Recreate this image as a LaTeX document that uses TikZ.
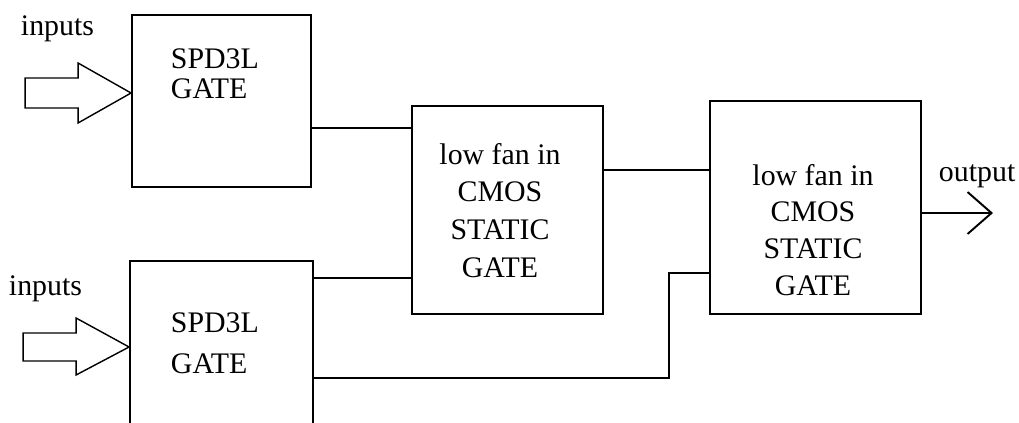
\documentclass[tikz,border=0pt]{standalone}
\usepackage{fontspec}
\setmainfont{Liberation Serif}
\usetikzlibrary{shapes, arrows.meta}

\begin{document}
\begin{tikzpicture}[x=0.02cm, y=-0.02cm, line width=1.1pt,
		gate/.style={rectangle, draw},
		txt/.style={inner sep=0pt, font=\fontsize{17}{21.5}\selectfont}]
		\useasboundingbox (0,0) rectangle (1019,423);
		% boxes
		\node at (221.5,101) [gate, minimum width=3.58cm, minimum height=3.44cm] (S1) {};
		\node at (221.5,380.5) [gate, minimum width=3.66cm, minimum height=4.78cm] (S2) {};
		\node at (507.5,210) [gate, minimum width=3.82cm, minimum height=4.16cm] (C1) {};
		\node at (815.5,207.5) [gate, minimum width=4.22cm, minimum height=4.26cm] (C2) {};
		% texts
		\node at (170,48) [txt, anchor=north west, align=left, font=\fontsize{17}{17}\selectfont] (T1) {SPD3L\\GATE};
		\node at (170,312) [txt, anchor=north west, align=left, font=\fontsize{17}{23.3}\selectfont] (T2) {SPD3L\\GATE};
		\node at (500,142) [txt, anchor=north, align=center, font=\fontsize{17}{21.6}\selectfont] (T3) {low fan in\\CMOS\\STATIC\\GATE};
		\node at (813,163) [txt, anchor=north, align=center, font=\fontsize{17}{21}\selectfont] (T4) {low fan in\\CMOS\\STATIC\\GATE};
		\node at (20,35) [txt, anchor=base west] (in1) {inputs};
		\node at (8,295) [txt, anchor=base west] (in2) {inputs};
		\node at (938,181) [txt, anchor=base west] (out) {output};
		% input arrows
		\draw[line width=0.8pt] (S1.west |- 0,93) -- ++(-53,-30) -- ++(0,15) -- ++(-53,0) -- ++(0,30) -- ++(53,0) -- ++(0,15) -- cycle;
		\draw[line width=0.8pt] (S2.west |- 0,347) -- ++(-53,-29) -- ++(0,15) -- ++(-53,0) -- ++(0,28) -- ++(53,0) -- ++(0,14) -- cycle;
		% wires
		\coordinate (bend) at (669,273);
		\coordinate (tip) at (993,213);
		\draw (S1.east |- 0,128) -- (C1.west |- 0,128);
		\draw (S2.east |- 0,278) -- (C1.west |- 0,278);
		\draw (C1.east |- 0,170) -- (C2.west |- 0,170);
		\draw (S2.east |- 0,378) -| (bend) -- (C2.west |- bend);
		\draw[-{Straight Barb[length=0.48cm, width=0.84cm]}] (C2.east |- tip) -- (tip);
\end{tikzpicture}
\end{document}
